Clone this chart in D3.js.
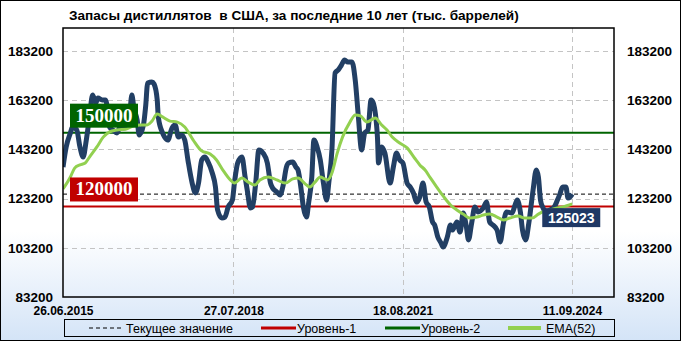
<!DOCTYPE html>
<html>
<head>
<meta charset="utf-8">
<title>Запасы дистиллятов в США</title>
<script src="https://d3js.org/d3.v7.min.js"></script>
<style>
    body { margin: 0; background: #fff; }
    svg text { font-family: 'Liberation Sans', Arial, sans-serif; }
</style>
</head>
<body>
<svg id="chart" width="681" height="341"></svg>
<script>
    // недели от 26.06.2015 и значения запасов (тыс. баррелей)
    const stockWeeks = [0,3,7,9,13,16,19,22,25,28,31,33,37,40,42,44,47,51,54,57,60,63,65,67,70,72,76,78,80,84,86,89,90,94,96,99,103,106,109,112,115,118,122,125,128,131,134,137,141,144,146,150,153,156,160,162,165,169,172,174,177,179,182,185,189,193,196,198,202,205,208,211,213,217,220,222,225,227,230,232,235,237,240,243,246,249,251,254,257,260,263,266,269,273,276,279,282,285,288,291,293,297,298,301,304,309,312,315,318,321,325,328,331,334,337,340,343,346,349,351,354,357,359,363,366,368,372,375,378,381,383,386,389,392,397,400,403,406,410,413,416,419,424,427,429,432,434,437,440,444,447,449,451,453,457,460,464,467,469,472,475,477,479,481];
    const stockValues = [136000,144200,149900,152300,151100,144200,140100,147000,156400,165300,162100,164100,163300,163300,160000,152300,151100,149900,152300,151900,152300,157200,165300,160000,155200,149100,153100,160400,170200,170600,169800,163300,156400,149900,148200,147000,151900,153100,148200,149100,147000,138900,129500,125500,129500,138900,140100,138100,133600,127900,118600,115300,115700,119800,122600,129900,137700,140100,132000,126700,119400,119800,129500,143000,141700,137700,129500,127500,125900,124700,128700,136000,137700,138100,136000,134800,126700,119800,115700,121400,132000,147000,144200,138900,129500,122600,129500,143000,174300,175500,177500,179500,178700,178700,171400,156400,143000,149900,151100,163300,162100,148200,137700,144200,141700,129500,136000,141700,138900,137700,129500,127900,125500,121800,123900,129500,121800,119800,113700,112500,107600,105200,103500,107600,112500,110400,113700,109600,117300,111700,106400,113300,119800,117800,119400,121800,113700,112500,110400,105600,113300,117800,117300,120600,122600,117800,110400,106400,113300,126700,134800,132000,122600,119800,117300,118600,119800,122600,124700,127900,127900,123400,123900,125023];

    const emaWeeks = [0,7,11,16,21,25,32,38,44,51,60,66,73,79,84,89,94,101,108,115,123,131,139,145,151,158,162,169,175,181,186,194,202,210,217,222,229,233,238,243,247,250,254,259,264,271,276,281,287,295,301,306,311,318,325,332,337,342,347,353,359,366,372,378,384,391,397,403,410,416,422,430,436,443,449,453,460,467,472,481];
    const emaValues = [127100,132000,135600,136900,137700,140100,144200,148200,150300,151100,151500,152700,153100,153100,154700,157600,156400,154700,154300,152300,147000,142600,141300,138900,134800,130800,129500,131600,129900,128700,130800,132000,130800,129500,131200,131600,129100,127900,129900,132000,131200,130800,133600,141700,148200,154300,157200,156800,154300,156000,153100,151100,148200,145800,143800,139700,136900,134800,131600,127900,124300,120600,118600,116900,115300,115700,116500,116900,115700,114500,115300,116100,115300,115300,116900,117800,118600,119400,119800,121000];

    const startDate = new Date(2015, 5, 26);
    const endDate = new Date(2025, 5, 16);
    const xTickDates = [new Date(2015, 5, 26), new Date(2018, 6, 27), new Date(2021, 7, 18), new Date(2024, 8, 11)];
    const yTicks = [83200, 103200, 123200, 143200, 163200, 183200];
    const level1 = 120000;
    const level2 = 150000;
    const currentValue = 125023;
    const legendItems = ["Текущее значение", "Уровень-1", "Уровень-2", "EMA(52)"];

    const W = 681, H = 341;
    const plot = {left: 63, right: 614, top: 28, bottom: 297};

    const svg = d3.select("#chart");
    const defs = svg.append("defs");

    const grad = defs.append("linearGradient")
        .attr("id", "bg").attr("x1", 0).attr("y1", 0).attr("x2", 0).attr("y2", 1);
    grad.append("stop").attr("offset", "0%").attr("stop-color", "#ffffff");
    grad.append("stop").attr("offset", "68%").attr("stop-color", "#ffffff");
    grad.append("stop").attr("offset", "100%").attr("stop-color", "#d4e4f7");

    defs.append("clipPath").attr("id", "clip")
        .append("rect")
        .attr("x", plot.left).attr("y", plot.top)
        .attr("width", plot.right - plot.left).attr("height", plot.bottom - plot.top);

    // фон и рамка
    svg.append("rect")
        .attr("x", 0.5).attr("y", 0.5).attr("width", W - 1).attr("height", H - 1)
        .attr("fill", "url(#bg)").attr("stroke", "#000").attr("stroke-width", 1);

    const x = d3.scaleTime().domain([startDate, endDate]).range([plot.left, plot.right]);
    const y = d3.scaleLinear().domain([83200, 192550]).range([plot.bottom, plot.top]);

    const weekDate = w => d3.timeDay.offset(startDate, w * 7);

    // сетка
    svg.append("g")
        .selectAll("line")
        .data(yTicks.slice(1))
        .join("line")
        .attr("x1", plot.left).attr("x2", plot.right)
        .attr("y1", d => Math.round(y(d)) + 0.5).attr("y2", d => Math.round(y(d)) + 0.5)
        .attr("stroke", "#c4c4c4").attr("stroke-dasharray", "5,4");

    svg.append("g")
        .selectAll("line")
        .data(xTickDates.slice(1))
        .join("line")
        .attr("x1", d => Math.round(x(d)) + 0.5).attr("x2", d => Math.round(x(d)) + 0.5)
        .attr("y1", plot.top).attr("y2", plot.bottom)
        .attr("stroke", "#c4c4c4").attr("stroke-dasharray", "5,4");

    // оси
    const fmt = d3.timeFormat("%d.%m.%Y");
    const numFmt = d3.format("d");
    const axisLeft = svg.append("g")
        .attr("transform", `translate(${plot.left},0)`)
        .call(d3.axisLeft(y).tickValues(yTicks).tickFormat(numFmt).tickSize(0).tickPadding(10));
    const axisRight = svg.append("g")
        .attr("transform", `translate(${plot.right},0)`)
        .call(d3.axisRight(y).tickValues(yTicks).tickFormat(numFmt).tickSize(0).tickPadding(13));
    const axisBottom = svg.append("g")
        .attr("transform", `translate(0,${plot.bottom})`)
        .call(d3.axisBottom(x).tickValues(xTickDates).tickFormat(fmt).tickSize(0).tickPadding(9));

    [axisLeft, axisRight, axisBottom].forEach(a => {
        a.select(".domain").remove();
        a.selectAll("text")
            .attr("font-weight", "bold")
            .attr("fill", "#000");
    });
    axisLeft.selectAll("text").attr("font-size", 13.5);
    axisRight.selectAll("text").attr("font-size", 13.5);
    axisBottom.selectAll("text").attr("font-size", 12);

    const g = svg.append("g").attr("clip-path", "url(#clip)");

    // текущее значение
    g.append("line")
        .attr("x1", plot.left).attr("x2", plot.right)
        .attr("y1", y(currentValue)).attr("y2", y(currentValue))
        .attr("stroke", "#000").attr("stroke-width", 1).attr("stroke-dasharray", "4,3");

    // уровни
    g.append("line")
        .attr("x1", plot.left).attr("x2", plot.right)
        .attr("y1", y(level1)).attr("y2", y(level1))
        .attr("stroke", "#c00000").attr("stroke-width", 2);
    g.append("line")
        .attr("x1", plot.left).attr("x2", plot.right)
        .attr("y1", y(level2)).attr("y2", y(level2))
        .attr("stroke", "#006400").attr("stroke-width", 2);

    const line = d3.line()
        .x(d => x(weekDate(d[0])))
        .y(d => y(d[1]))
        .curve(d3.curveMonotoneX);

    g.append("path")
        .datum(d3.zip(stockWeeks, stockValues))
        .attr("d", line)
        .attr("fill", "none")
        .attr("stroke", "#223f64")
        .attr("stroke-width", 5)
        .attr("stroke-linejoin", "round");

    g.append("path")
        .datum(d3.zip(emaWeeks, emaValues))
        .attr("d", line)
        .attr("fill", "none")
        .attr("stroke", "#92d050")
        .attr("stroke-width", 3)
        .attr("stroke-linejoin", "round");

    // рамка области графика
    svg.append("rect")
        .attr("x", plot.left).attr("y", plot.top)
        .attr("width", plot.right - plot.left).attr("height", plot.bottom - plot.top)
        .attr("fill", "none").attr("stroke", "#000").attr("stroke-width", 1.5);

    // метки уровней
    function levelLabel(value, color) {
        const top = y(value) - 29;
        svg.append("rect")
            .attr("x", 70).attr("y", top).attr("width", 68).attr("height", 24)
            .attr("fill", color);
        svg.append("text")
            .attr("x", 104).attr("y", top + 18)
            .attr("text-anchor", "middle")
            .style("font-family", "'Liberation Serif', 'Times New Roman', serif")
            .attr("font-weight", "bold")
            .attr("font-size", 19)
            .attr("fill", "#fff")
            .text(value);
    }
    levelLabel(level2, "#006400");
    levelLabel(level1, "#c00000");

    // метка текущего значения
    const lastX = x(weekDate(stockWeeks[stockWeeks.length - 1]));
    const lastY = y(currentValue);
    svg.append("rect")
        .attr("x", lastX - 30).attr("y", lastY + 14).attr("width", 58).attr("height", 19)
        .attr("fill", "#1f3864");
    svg.append("text")
        .attr("x", lastX - 1).attr("y", lastY + 28.5)
        .attr("text-anchor", "middle")
        .attr("font-weight", "bold")
        .attr("font-size", 14)
        .attr("fill", "#fff")
        .text(currentValue);

    // заголовок
    svg.append("text")
        .attr("x", 69).attr("y", 20)
        .attr("font-weight", "bold")
        .attr("font-size", 13.6)
        .style("white-space", "pre")
        .text("Запасы дистиллятов  в США, за последние 10 лет (тыс. баррелей)");

    // легенда
    const leg = svg.append("g");
    leg.append("rect")
        .attr("x", 64.5).attr("y", 319.5).attr("width", 550).attr("height", 17)
        .attr("fill", "none").attr("stroke", "#000").attr("stroke-width", 1);

    const legY = 328;
    const legStyles = [
        {x1: 89, x2: 122, color: "#000", w: 1, dash: "4,3", tx: 126},
        {x1: 261, x2: 296, color: "#c00000", w: 3, dash: null, tx: 297},
        {x1: 385, x2: 420, color: "#006400", w: 3, dash: null, tx: 421},
        {x1: 508, x2: 541, color: "#92d050", w: 4, dash: null, tx: 546}
    ];
    legendItems.forEach((name, i) => {
        const s = legStyles[i];
        leg.append("line")
            .attr("x1", s.x1).attr("x2", s.x2).attr("y1", legY).attr("y2", legY)
            .attr("stroke", s.color).attr("stroke-width", s.w)
            .attr("stroke-dasharray", s.dash);
        leg.append("text")
            .attr("x", s.tx).attr("y", legY + 4.5)
            .attr("font-size", 12.5)
            .text(name);
    });
</script>
</body>
</html>
